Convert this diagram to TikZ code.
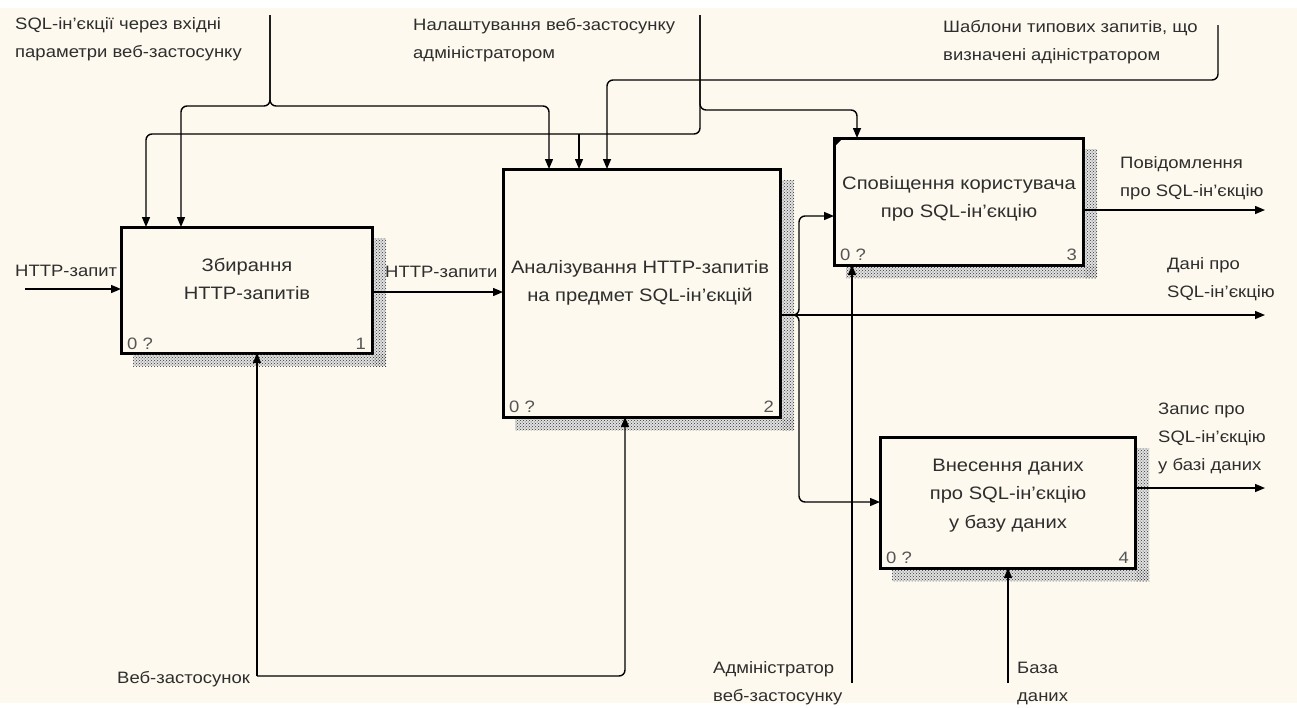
\documentclass[tikz,border=0pt]{standalone}
\usepackage{fontspec}
\setmainfont{Liberation Sans}[FakeStretch=1.12]
\usetikzlibrary{arrows.meta,patterns}
\definecolor{bg}{HTML}{FDF9EE}
\definecolor{txt}{HTML}{2E2E2E}
\definecolor{numc}{HTML}{555555}
\newcommand{\ltab}[1]{\begin{tabular}[t]{@{}l@{}}#1\end{tabular}}
\newcommand{\ctab}[1]{\begin{tabular}[t]{@{}c@{}}#1\end{tabular}}
\newcommand{\boxshadow}[1]{%
  \fill[shadowfill] ([xshift=1.5pt,yshift=-11pt]#1.north east) rectangle ([xshift=14pt,yshift=-13pt]#1.south east);
  \fill[shadowfill] ([xshift=12pt,yshift=-1.5pt]#1.south west) rectangle ([xshift=14pt,yshift=-13pt]#1.south east);
  \fill[shadowpat] ([xshift=1.5pt,yshift=-11pt]#1.north east) rectangle ([xshift=14pt,yshift=-13pt]#1.south east);
  \fill[shadowpat] ([xshift=12pt,yshift=-1.5pt]#1.south west) rectangle ([xshift=14pt,yshift=-13pt]#1.south east);}
\begin{document}
\begin{tikzpicture}[x=1pt,y=-1pt,
  idefbox/.style={draw=black,line width=3pt,fill=bg,inner sep=0pt,outer sep=0pt},
  shadowfill/.style={fill=black!12},
  shadowpat/.style={pattern=crosshatch dots,pattern color=black!80},
  conn/.style={draw=black,line width=1.4pt,rounded corners=6pt},
  arr/.style={conn,-{Triangle[length=10pt,width=8pt]}},
  lbl/.style={font=\fontsize{16.5}{28}\selectfont,text=txt,inner sep=0pt,anchor=base west},
  btxt/.style={font=\fontsize{18}{28.5}\selectfont,text=txt,inner sep=0pt,anchor=base},
  num/.style={font=\fontsize{16.5}{20}\selectfont,text=numc,inner sep=0pt}]
\useasboundingbox (0,0) rectangle (1297,707);
\fill[white] (0,0) rectangle (1297,707);
\fill[bg] (0,8) rectangle (1297,703);

% boxes
\node[idefbox,minimum width=251pt,minimum height=126pt] (b1) at (246.5,290) {};
\node[idefbox,minimum width=277pt,minimum height=248pt] (b2) at (641.5,293) {};
\node[idefbox,minimum width=249pt,minimum height=127pt] (b3) at (958.5,201.5) {};
\node[idefbox,minimum width=255pt,minimum height=131pt] (b4) at (1007.5,502.5) {};
\boxshadow{b1}
\boxshadow{b2}
\boxshadow{b3}
\boxshadow{b4}
\fill[black] (b3.north west) -- ++(9,0) -- ++(-9,9) -- cycle;

% box texts
\node[btxt] (t1) at (247,271) {\ctab{Збирання\\HTTP-запитів}};
\node[btxt] (t2) at (640,273) {\ctab{Аналізування HTTP-запитів\\на предмет SQL-ін’єкцій}};
\node[btxt] (t3) at (959,189) {\ctab{Сповіщення користувача\\про SQL-ін’єкцію}};
\node[btxt] (t4) at (1008,471) {\ctab{Внесення даних\\про SQL-ін’єкцію\\у базу даних}};

\node[num,anchor=base west] (n1a) at ([xshift=6pt,yshift=4pt]b1.south west) {0 ?};
\node[num,anchor=base east] (n1b) at ([xshift=-6pt,yshift=4pt]b1.south east) {1};
\node[num,anchor=base west] (n2a) at ([xshift=6pt,yshift=5pt]b2.south west) {0 ?};
\node[num,anchor=base east] (n2b) at ([xshift=-6pt,yshift=5pt]b2.south east) {2};
\node[num,anchor=base west] (n3a) at ([xshift=6pt,yshift=5pt]b3.south west) {0 ?};
\node[num,anchor=base east] (n3b) at ([xshift=-6pt,yshift=5pt]b3.south east) {3};
\node[num,anchor=base west] (n4a) at ([xshift=6pt,yshift=5pt]b4.south west) {0 ?};
\node[num,anchor=base east] (n4b) at ([xshift=-6pt,yshift=5pt]b4.south east) {4};

% labels
\node[lbl] (lSQL) at (15,29) {\ltab{SQL-ін’єкції через вхідні\\параметри веб-застосунку}};
\node[lbl] (lCfg) at (413,30) {\ltab{Налаштування веб-застосунку\\адміністратором}};
\node[lbl] (lTpl) at (943,32) {\ltab{Шаблони типових запитів, що\\визначені адіністратором}};
\node[lbl] (lHttp) at (15,276) {HTTP-запит};
\node[lbl] (lHttps) at (385,277) {HTTP-запити};
\node[lbl] (lMsg) at (1120,168) {\ltab{Повідомлення\\про SQL-ін’єкцію}};
\node[lbl] (lData) at (1167,269) {\ltab{Дані про\\SQL-ін’єкцію}};
\node[lbl] (lRec) at (1158,414) {\ltab{Запис про\\SQL-ін’єкцію\\у базі даних}};
\node[lbl] (lWeb) at (117,683) {Веб-застосунок};
\node[lbl] (lAdm) at (713,673) {\ltab{Адміністратор\\веб-застосунку}};
\node[lbl] (lDb) at (1017,673) {\ltab{База\\даних}};

% free ends and junctions
\coordinate (sSQL) at (270,15);
\coordinate (jSQL) at (270,106);
\coordinate (sCfg) at (700,15);
\coordinate (jCfg1) at (700,110);
\coordinate (jCfg2) at (700,134);
\coordinate (jCfg3) at (579,134);
\coordinate (sTpl) at (1218,25);
\coordinate (jTpl) at (1218,80);
\coordinate (sHttp) at (25,289);
\coordinate (o2) at ([yshift=-146pt]b2.north east);
\coordinate (fork) at (799,315);
\coordinate (eMsg) at (1265,210);
\coordinate (eData) at (1265,315);
\coordinate (eRec) at (1265,488);
\coordinate (sWeb) at (257,676);
\coordinate (sAdm) at (852,683);
\coordinate (sDb) at (1008,683);

% controls
\draw[arr] (sSQL) -- (jSQL) -| ([xshift=60pt]b1.north west);
\draw[arr] (sSQL) -- (jSQL) -| ([xshift=46pt]b2.north west);
\draw[arr] (sCfg) -- (jCfg2) -| ([xshift=25pt]b1.north west);
\draw[arr] (jCfg3) -- ([xshift=76pt]b2.north west);
\draw[arr] (sCfg) -- (jCfg1) -| ([xshift=23pt]b3.north west);
\draw[arr] (sTpl) -- (jTpl) -| ([xshift=104pt]b2.north west);

% inputs / outputs
\draw[arr] (sHttp) -- ([yshift=-62pt]b1.north west);
\draw[arr] ([yshift=-65pt]b1.north east) -- ([yshift=-123pt]b2.north west);
\draw[arr] (o2) -- (eData);
\draw[arr] (o2) -- (fork) |- ([yshift=-78pt]b3.north west);
\draw[arr] (o2) -- (fork) |- ([yshift=-65pt]b4.north west);
\draw[arr] ([yshift=-72pt]b3.north east) -- (eMsg);
\draw[arr] ([yshift=-51pt]b4.north east) -- (eRec);

% mechanisms
\draw[arr] (sWeb) -- ([xshift=136pt]b1.south west);
\draw[arr] (sWeb) -| ([xshift=122pt]b2.south west);
\draw[arr] (sAdm) -- ([xshift=18pt]b3.south west);
\draw[arr] (sDb) -- ([xshift=128pt]b4.south west);
\end{tikzpicture}
\end{document}
